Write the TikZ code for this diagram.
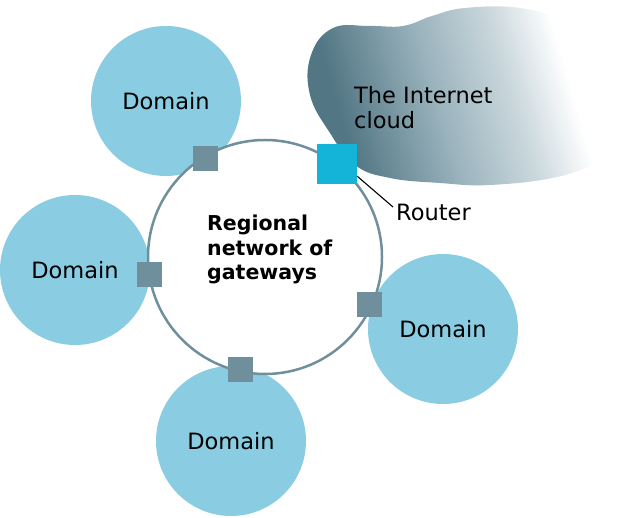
\documentclass[tikz,border=0pt]{standalone}
\usepackage{fontspec}
\setmainfont{DejaVu Sans}
\definecolor{dom}{HTML}{8ACDE2}
\definecolor{gw}{HTML}{6F8F9C}
\definecolor{rt}{HTML}{14B4D8}
\definecolor{cdark}{HTML}{527684}
\definecolor{cmid}{HTML}{9AB3BD}
\definecolor{clight}{HTML}{CBD8DD}
\pgfdeclareverticalshading{cloudsh}{100bp}{color(0bp)=(cdark); color(28bp)=(cdark); color(45bp)=(cmid); color(58bp)=(clight); color(68bp)=(white); color(100bp)=(white)}
\begin{document}
\begin{tikzpicture}[x=1pt,y=-1pt,
  domcircle/.style={circle, fill=dom, minimum size=150pt, inner sep=0pt, font=\fontsize{22.5}{25}\selectfont},
  ringcircle/.style={circle, draw=gw, line width=2.5pt, fill=white, minimum size=234pt, inner sep=0pt},
  gate/.style={rectangle, fill=gw, minimum size=25pt, inner sep=0pt},
  routerbox/.style={rectangle, fill=rt, minimum size=40pt, inner sep=0pt},
  txt/.style={inner sep=0pt, font=\fontsize{22.5}{25}\selectfont},
  boldtxt/.style={inner sep=0pt, align=left, font=\fontsize{20.5}{24.5}\selectfont\bfseries}]
\useasboundingbox (0,0) rectangle (627,518);
% cloud
\shade[shading=cloudsh, shading angle=-74] plot[smooth cycle, tension=0.7] coordinates {
  (333,28) (370,26) (403,26) (432,16) (465,8) (520,8) (565,23) (597,57) (613,93)
  (623,138) (600,160) (557,177) (490,185) (440,183) (390,178) (355,165) (330,133)
  (310,95) (311,55)};
\node[txt, anchor=north west, align=left] (inet) at (354,86) {The Internet\\cloud};
% domains
\node[domcircle] (d1) at (166,101) {Domain};
\node[domcircle] (d2) at (75,270) {Domain};
\node[domcircle] (d3) at (443,329) {Domain};
\node[domcircle] (d4) at (231,441) {Domain};
% ring
\node[ringcircle] (ring) at (265,257) {};
\node[boldtxt, anchor=north west] (lbl) at (207,215) {Regional\\network of\\gateways};
% gateways
\node[gate] (g1) at (205,159) {};
\node[gate] (g2) at (149,275) {};
\node[gate] (g3) at (369,305) {};
\node[gate] (g4) at (240,370) {};
\node[routerbox] (router) at (337,164) {};
% router label
\node[txt, anchor=west] (rlabel) at (396,212) {Router};
\draw[line width=1.1pt] ([yshift=8pt]router.south east) -- ([xshift=-3pt,yshift=5pt]rlabel.west);
\end{tikzpicture}
\end{document}
